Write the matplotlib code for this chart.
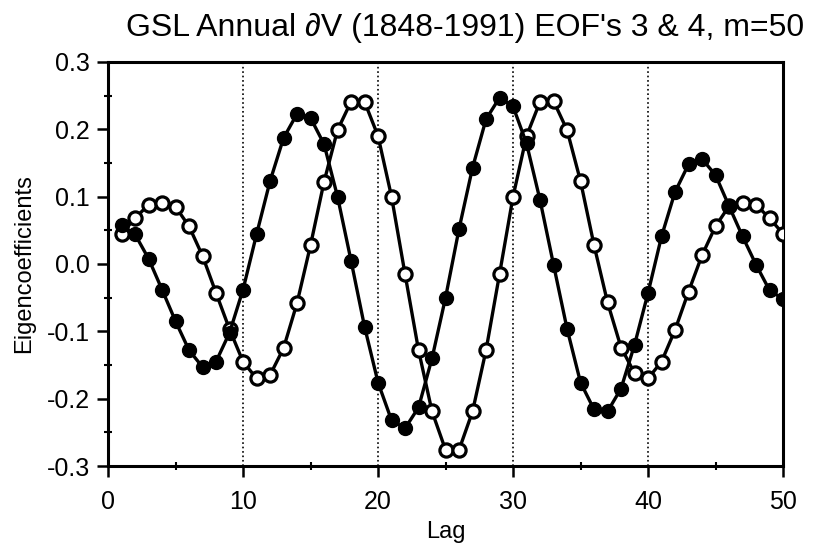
import matplotlib
matplotlib.use('Agg')
import matplotlib.pyplot as plt
from matplotlib.ticker import MultipleLocator

plt.rcParams['font.family'] = ['Liberation Sans', 'DejaVu Sans']

lags = list(range(1, 51))
eof3 = [0.058, 0.044, 0.008, -0.038, -0.085, -0.128, -0.153, -0.145, -0.102, -0.038,
        0.044, 0.123, 0.187, 0.223, 0.217, 0.178, 0.100, 0.005, -0.093, -0.176,
        -0.232, -0.244, -0.213, -0.140, -0.050, 0.052, 0.143, 0.215, 0.247, 0.234,
        0.179, 0.095, -0.001, -0.096, -0.176, -0.216, -0.219, -0.185, -0.120, -0.043,
        0.041, 0.107, 0.148, 0.156, 0.132, 0.086, 0.041, -0.001, -0.039, -0.052]
eof4 = [0.045, 0.068, 0.088, 0.091, 0.085, 0.056, 0.012, -0.043, -0.097, -0.145,
        -0.170, -0.165, -0.125, -0.058, 0.028, 0.122, 0.199, 0.241, 0.241, 0.190,
        0.100, -0.015, -0.128, -0.219, -0.276, -0.276, -0.219, -0.128, -0.015, 0.100,
        0.190, 0.241, 0.242, 0.199, 0.123, 0.028, -0.057, -0.124, -0.162, -0.170,
        -0.145, -0.098, -0.041, 0.013, 0.056, 0.086, 0.090, 0.088, 0.068, 0.045]

fig = plt.figure(figsize=(8.16, 5.48), dpi=100)
ax = fig.add_axes([0.1324, 0.1496, 0.8272, 0.7373])

for xv in [10, 20, 30, 40]:
    ax.axvline(xv, color='black', linestyle=':', linewidth=1.2, zorder=1)

ax.plot(lags, eof4, color='black', linewidth=2.4, marker='o', markersize=9.5,
        markerfacecolor='white', markeredgecolor='black', markeredgewidth=2.3, zorder=3)
ax.plot(lags, eof3, color='black', linewidth=2.4, marker='o', markersize=10,
        markerfacecolor='black', markeredgecolor='black', zorder=4)

ax.set_xlim(0, 50)
ax.set_ylim(-0.3, 0.3)
ax.xaxis.set_major_locator(MultipleLocator(10))
ax.xaxis.set_minor_locator(MultipleLocator(5))
ax.yaxis.set_major_locator(MultipleLocator(0.1))
ax.yaxis.set_minor_locator(MultipleLocator(0.05))
ax.set_yticklabels([f'{v:.1f}' for v in ax.get_yticks()])
ax.tick_params(which='major', direction='out', length=8, width=1.8, labelsize=18)
ax.tick_params(which='minor', direction='inout', length=6, width=1.5)
ax.tick_params(axis='y', which='major', pad=5)
ax.tick_params(axis='x', which='major', pad=9)
for s in ax.spines.values():
    s.set_linewidth(2.2)

ax.set_xlabel('Lag', fontsize=17, labelpad=5)
ax.set_ylabel('Eigencoefficients', fontsize=17, labelpad=8)
fig.text(0.57, 0.949, "GSL Annual \u2202V (1848-1991) EOF's 3 & 4, m=50",
         ha='center', va='center', fontsize=23)

fig.savefig('out.png', dpi=100)
